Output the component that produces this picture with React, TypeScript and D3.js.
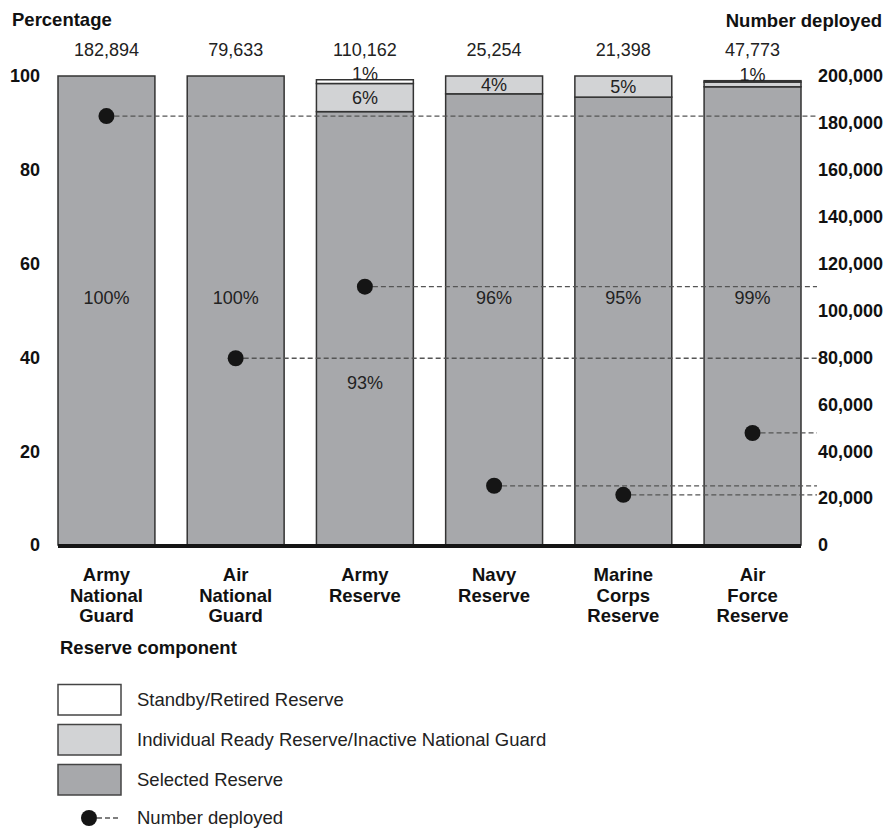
import React from "react"
import * as d3 from "d3"

const categories = [
  ["Army", "National", "Guard"],
  ["Air", "National", "Guard"],
  ["Army", "Reserve"],
  ["Navy", "Reserve"],
  ["Marine", "Corps", "Reserve"],
  ["Air", "Force", "Reserve"],
]
// share of each component, in percent (as drawn)
const selectedReserve = [100, 100, 92.4, 96.2, 95.5, 97.7]
const readyReserve = [0, 0, 6.0, 3.8, 4.5, 1.0]
const standbyReserve = [0, 0, 0.8, 0, 0, 0.3]
const selectedLabels = ["100%", "100%", "93%", "96%", "95%", "99%"]
const readyLabels = ["", "", "6%", "4%", "5%", ""]
const standbyLabels = ["", "", "1%", "", "", "1%"]
const deployed = [182894, 79633, 110162, 25254, 21398, 47773]

const leftTicks = [0, 20, 40, 60, 80, 100]
const rightTicks = [0, 20000, 40000, 60000, 80000, 100000, 120000, 140000, 160000, 180000, 200000]

const legendItems = [
  { label: "Standby/Retired Reserve", fill: "#ffffff" },
  { label: "Individual Ready Reserve/Inactive National Guard", fill: "#d2d3d5" },
  { label: "Selected Reserve", fill: "#a7a8ab" },
]

const W = 887
const H = 830
const FONT = "'Liberation Sans', Arial, Helvetica, sans-serif"
const SEL = "#a7a8ab"
const IRR = "#d2d3d5"

export default function App() {
  const x = d3.scaleBand<number>()
    .domain(d3.range(categories.length))
    .range([58, 801])
    .paddingInner(0.25)
    .paddingOuter(0)
  const y = d3.scaleLinear().domain([0, 100]).range([545, 76])
  const y2 = d3.scaleLinear().domain([0, 200000]).range([545, 76])
  const fmt = d3.format(",")
  const bw = x.bandwidth()

  return (
    <svg width={W} height={H} style={{ position: "absolute", left: 0, top: 0, background: "#fff" }} fontFamily={FONT}>
      <text x={12} y={26} fontSize={18.5} fontWeight="bold" fill="#111">Percentage</text>
      <text x={882} y={27} fontSize={18.5} fontWeight="bold" fill="#111" textAnchor="end">Number deployed</text>

      {leftTicks.map(t => (
        <text key={t} x={40} y={y(t)} dy="0.35em" textAnchor="end" fontSize={18} fontWeight="bold" fill="#111">{t}</text>
      ))}
      {rightTicks.map(t => (
        <text key={t} x={818} y={y2(t)} dy="0.35em" fontSize={18} fontWeight="bold" fill="#111">{fmt(t)}</text>
      ))}

      {categories.map((_, i) => {
        const x0 = x(i)!
        const s0 = selectedReserve[i]
        const s1 = s0 + readyReserve[i]
        const s2 = s1 + standbyReserve[i]
        return (
          <g key={i}>
            <rect x={x0} y={y(s0)} width={bw} height={y(0) - y(s0)} fill={SEL} stroke="#333" strokeWidth={1.5} />
            {readyReserve[i] > 0 && (
              <rect x={x0} y={y(s1)} width={bw} height={y(s0) - y(s1)} fill={IRR} stroke="#333" strokeWidth={1.5} />
            )}
            {standbyReserve[i] > 0 && (
              <rect x={x0} y={y(s2)} width={bw} height={y(s1) - y(s2)} fill="#fff" stroke="#333" strokeWidth={1.5} />
            )}
          </g>
        )
      })}

      <line x1={58} x2={801} y1={y(0) + 1} y2={y(0) + 1} stroke="#151515" strokeWidth={4} />

      {deployed.map((d, i) => (
        <line key={i} x1={x(i)! + bw / 2} x2={817} y1={y2(d)} y2={y2(d)}
          stroke="#555" strokeWidth={1.3} strokeDasharray="5,3" />
      ))}

      {categories.map((_, i) => {
        const cx = x(i)! + bw / 2
        const s0 = selectedReserve[i]
        const s1 = s0 + readyReserve[i]
        const s2 = s1 + standbyReserve[i]
        // Army Reserve label moved down to clear the dot
        const labelY = i === 2 ? y(34.5) : y(52.7)
        return (
          <g key={i} fontSize={18} fill="#222" textAnchor="middle">
            <text x={cx} y={50} dy="0.35em">{fmt(deployed[i])}</text>
            <text x={cx} y={labelY} dy="0.35em">{selectedLabels[i]}</text>
            {readyLabels[i] && <text x={cx} y={(y(s0) + y(s1)) / 2} dy="0.35em">{readyLabels[i]}</text>}
            {standbyLabels[i] && <text x={cx} y={y(s2) - 6} dy="0.35em">{standbyLabels[i]}</text>}
            {categories[i].map((line, k) => (
              <text key={k} x={cx} y={575 + k * 20.5} dy="0.35em" fontSize={18.5} fontWeight="bold" fill="#111">{line}</text>
            ))}
          </g>
        )
      })}

      {deployed.map((d, i) => (
        <circle key={i} cx={x(i)! + bw / 2} cy={y2(d)} r={8} fill="#151515" />
      ))}

      <text x={60} y={648} dy="0.35em" fontSize={18.5} fontWeight="bold" fill="#111">Reserve component</text>
      {legendItems.map((it, i) => (
        <g key={i} transform={`translate(58,${684.5 + i * 40})`}>
          <rect x={0} y={0} width={63} height={30.5} fill={it.fill} stroke="#444" strokeWidth={1.5} />
          <text x={79} y={15} dy="0.35em" fontSize={18.5} fill="#222">{it.label}</text>
        </g>
      ))}
      <g transform="translate(0,818)">
        <line x1={97} x2={120} y1={0} y2={0} stroke="#555" strokeWidth={1.3} strokeDasharray="5,3" />
        <circle cx={89} cy={0} r={8} fill="#151515" />
        <text x={137} y={0} dy="0.35em" fontSize={18.5} fill="#222">Number deployed</text>
      </g>
    </svg>
  )
}
